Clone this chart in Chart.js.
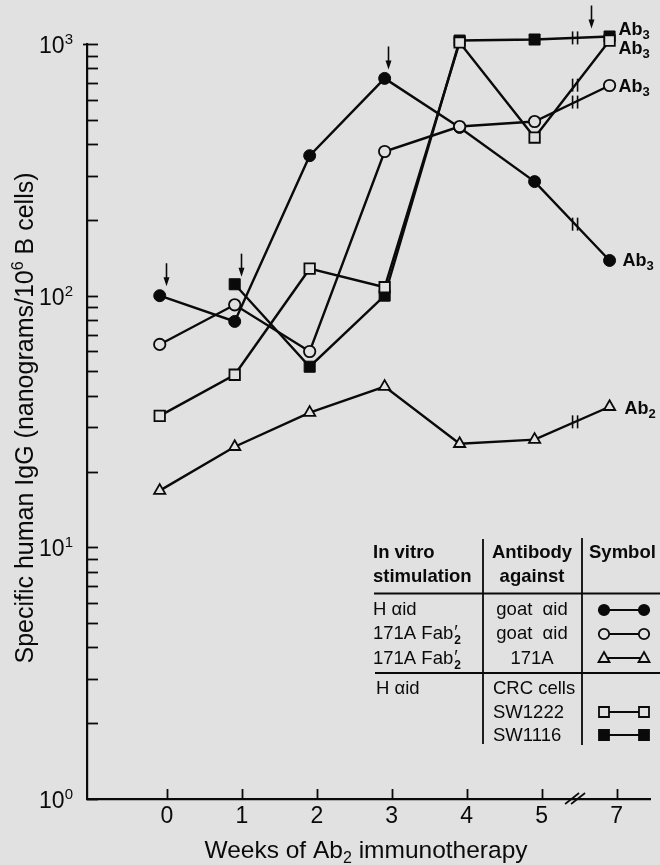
<!DOCTYPE html>
<html>
<head>
<meta charset="utf-8">
<script src="https://cdn.jsdelivr.net/npm/chart.js@4/dist/chart.umd.min.js"></script>
<style>
html,body{margin:0;padding:0;background:#e1e1e1;}
#wrap{position:relative;width:660px;height:865px;}
canvas{display:block;}
</style>
</head>
<body>
<div id="wrap"><canvas id="c" width="660" height="865"></canvas></div>
<script>
// ---------------- data ----------------
const weeks = [0, 1, 2, 3, 4, 5, 7];
const weekTickLabels = ['0', '1', '2', '3', '4', '5', '7'];
// H αid stimulation, goat αid antibody (filled circles)
const hAidGoat = [100, 79, 360, 730, 466, 284, 138];
// 171A Fab'2 stimulation, goat αid antibody (open circles)
const fabGoat = [64, 92, 60, 374, 470, 492, 684];
// 171A Fab'2 stimulation, 171A antibody (open triangles)
const fab171A = [16.8, 25.1, 34.3, 43.5, 25.8, 26.8, 36.2];
// H αid stimulation, CRC cells SW1222 (open squares)
const sw1222 = [33.3, 48.5, 128, 108, 1014, 425, 1032];
// H αid stimulation, CRC cells SW1116 (filled squares)
const sw1116 = [null, 111, 52.2, 100, 1032, 1042, 1071];
// y-axis decade exponents (10^0 .. 10^3)
const yTickExps = [0, 1, 2, 3];
// immunization arrows: axis position and value of arrow tip
const arrowPos = [0.08, 1.09, 3.05, 5.75];
const arrowTipValues = [109, 119, 792, 1152];

// ---------------- styling ----------------
const FONT = "'Liberation Sans', Arial, Helvetica, sans-serif";
const INK = '#0a0a0a';
const BG = '#e1e1e1';
const breakPos = 5.54;     // axis position of the 5 // 7 break
const tickShift = 0.095;   // tick marks sit slightly right of the plotted points

// week 7 sits one step after 5 because of the axis break
const axisPos = w => (w <= 5 ? w : w - 1);
const series = vals => weeks.map((w, i) => vals[i] == null ? null : { x: axisPos(w), y: vals[i] }).filter(Boolean);

function drawRich(ctx, parts, x, y, align) {
  ctx.textBaseline = 'alphabetic';
  ctx.textAlign = 'left';
  let w = 0;
  parts.forEach(p => { ctx.font = p.font; p.w = ctx.measureText(p.t).width; w += p.w + (p.gap || 0); });
  let cx = align === 'center' ? x - w / 2 : align === 'right' ? x - w : x;
  parts.forEach(p => { ctx.font = p.font; ctx.fillText(p.t, cx, y + (p.dy || 0)); cx += p.w + (p.gap || 0); });
  return w;
}

function marker(ctx, style, x, y) {
  ctx.save();
  ctx.lineWidth = 1.8; ctx.strokeStyle = INK;
  ctx.beginPath();
  if (style === 'fcircle' || style === 'ocircle') ctx.arc(x, y, 5.2, 0, Math.PI * 2);
  else if (style === 'tri') { ctx.moveTo(x, y - 6); ctx.lineTo(x + 5.5, y + 4); ctx.lineTo(x - 5.5, y + 4); ctx.closePath(); }
  else if (style === 'osq' || style === 'fsq') ctx.rect(x - 5, y - 5, 10, 10);
  ctx.fillStyle = (style === 'fcircle' || style === 'fsq') ? INK : BG;
  ctx.fill(); ctx.stroke();
  ctx.restore();
}

const decorPlugin = {
  id: 'decor',
  afterDraw(chart) {
    const ctx = chart.ctx, xs = chart.scales.x, ys = chart.scales.y, ca = chart.chartArea;
    ctx.save();
    ctx.fillStyle = INK; ctx.strokeStyle = INK; ctx.lineCap = 'butt';

    // y-axis tick marks (inward) and decade labels
    ctx.lineWidth = 1.8;
    for (let d = 0; d < 3; d++) {
      for (let k = 1; k <= 9; k++) {
        const py = Math.round(ys.getPixelForValue(k * Math.pow(10, d))) + 0.5;
        ctx.beginPath(); ctx.moveTo(ca.left, py); ctx.lineTo(ca.left + 11, py); ctx.stroke();
      }
    }
    const pTop = Math.round(ys.getPixelForValue(1000)) + 0.5;
    ctx.beginPath(); ctx.moveTo(ca.left - 4, pTop); ctx.lineTo(ca.left + 11, pTop); ctx.stroke();
    yTickExps.forEach(e => {
      const py = ys.getPixelForValue(Math.pow(10, e));
      drawRich(ctx, [
        { t: '10', font: `23px ${FONT}` },
        { t: String(e), font: `15px ${FONT}`, dy: -9 }
      ], 73, py + 9, 'right');
    });

    // x-axis tick marks (inward)
    weekTickLabels.forEach((l, i) => {
      const px = Math.round(xs.getPixelForValue(i + tickShift)) + 0.5;
      ctx.beginPath(); ctx.moveTo(px, ca.bottom); ctx.lineTo(px, ca.bottom - 10); ctx.stroke();
    });
    // x-axis break //
    const bx = xs.getPixelForValue(breakPos);
    ctx.lineWidth = 1.6;
    [-3, 3].forEach(o => {
      ctx.beginPath(); ctx.moveTo(bx + o - 7, ca.bottom + 5); ctx.lineTo(bx + o + 7, ca.bottom - 6); ctx.stroke();
    });

    // break marks on each data line between 5 and 7
    [hAidGoat, fabGoat, fab171A, sw1222, sw1116].forEach(vals => {
      const a = vals[5], b = vals[6];
      const t = breakPos - 5;
      const v = Math.pow(10, Math.log10(a) + (Math.log10(b) - Math.log10(a)) * t);
      const py = ys.getPixelForValue(v);
      ctx.lineWidth = 1.6;
      [-2.5, 2.5].forEach(o => {
        ctx.beginPath(); ctx.moveTo(bx + o, py - 6.5); ctx.lineTo(bx + o, py + 6.5); ctx.stroke();
      });
    });

    // arrows
    ctx.lineWidth = 1.6;
    arrowPos.forEach((p, i) => {
      const px = Math.round(xs.getPixelForValue(p)) + 0.5;
      const tip = ys.getPixelForValue(arrowTipValues[i]);
      ctx.beginPath(); ctx.moveTo(px, tip - 23); ctx.lineTo(px, tip - 5); ctx.stroke();
      ctx.beginPath(); ctx.moveTo(px, tip); ctx.lineTo(px - 3, tip - 9); ctx.lineTo(px + 3, tip - 9); ctx.closePath(); ctx.fill();
    });

    // end labels
    const endLabels = [
      { vals: sw1116, sub: '3', dx: 9, dy: -2 },
      { vals: sw1222, sub: '3', dx: 9, dy: 13 },
      { vals: fabGoat, sub: '3', dx: 9, dy: 6 },
      { vals: hAidGoat, sub: '3', dx: 13, dy: 6 },
      { vals: fab171A, sub: '2', dx: 15, dy: 7 }
    ];
    endLabels.forEach(l => {
      const px = xs.getPixelForValue(axisPos(weeks[6]));
      const py = ys.getPixelForValue(l.vals[6]);
      drawRich(ctx, [
        { t: 'Ab', font: `bold 18px ${FONT}` },
        { t: l.sub, font: `bold 13px ${FONT}`, dy: 4 }
      ], px + l.dx, py + l.dy, 'left');
    });

    // axis titles
    drawRich(ctx, [
      { t: 'Weeks of Ab', font: `24.5px ${FONT}` },
      { t: '2', font: `16px ${FONT}`, dy: 5 },
      { t: ' immunotherapy', font: `24.5px ${FONT}` }
    ], 366, 858, 'center');
    ctx.save();
    ctx.translate(33, 418);
    ctx.rotate(-Math.PI / 2);
    drawRich(ctx, [
      { t: 'Specific human IgG (nanograms/10', font: `25px ${FONT}` },
      { t: '6', font: `16px ${FONT}`, dy: -10 },
      { t: ' B cells)', font: `25px ${FONT}` }
    ], 0, 0, 'center');
    ctx.restore();

    // ------------- legend table -------------
    const hb = `bold 18.5px ${FONT}`, nb = `18.5px ${FONT}`;
    ctx.textBaseline = 'alphabetic';
    ctx.font = hb; ctx.textAlign = 'left';
    ctx.fillText('In vitro', 373, 558);
    ctx.fillText('stimulation', 373, 582);
    ctx.fillText('Symbol', 589, 558);
    ctx.textAlign = 'center';
    ctx.fillText('Antibody', 532, 558);
    ctx.fillText('against', 532, 582);
    ctx.textAlign = 'left';

    ctx.lineWidth = 1.8;
    ctx.beginPath();
    ctx.moveTo(483, 539); ctx.lineTo(483, 744);
    ctx.moveTo(582, 538); ctx.lineTo(582, 745);
    ctx.moveTo(374, 593.5); ctx.lineTo(660, 593.5);
    ctx.moveTo(375, 673); ctx.lineTo(660, 673);
    ctx.stroke();

    const fabText = (x, y) => {
      ctx.font = nb;
      ctx.fillText('171A Fab', x, y);
      const w = ctx.measureText('171A Fab').width;
      ctx.fillText('\u2032', x + w + 1, y - 1);
      ctx.font = `bold 12px ${FONT}`;
      ctx.fillText('2', x + w + 1, y + 5);
    };
    ctx.font = nb;
    ctx.fillText('H \u03B1id', 373, 615);
    fabText(373, 639);
    fabText(373, 664);
    ctx.font = nb;
    ctx.fillText('H \u03B1id', 376, 694);
    ctx.textAlign = 'center';
    ctx.fillText('goat  \u03B1id', 532, 615);
    ctx.fillText('goat  \u03B1id', 532, 639);
    ctx.fillText('171A', 532, 664);
    ctx.textAlign = 'left';
    ctx.fillText('CRC cells', 493, 694);
    ctx.fillText('SW1222', 493, 718);
    ctx.fillText('SW1116', 493, 741);

    const sym = [['fcircle', 610], ['ocircle', 634], ['tri', 658], ['osq', 712], ['fsq', 735]];
    sym.forEach(([s, y]) => {
      ctx.lineWidth = 2.2;
      ctx.beginPath(); ctx.moveTo(604, y); ctx.lineTo(644, y); ctx.stroke();
      marker(ctx, s, 604, y); marker(ctx, s, 644, y);
    });
    ctx.restore();
  }
};

const common = {
  borderColor: INK, borderWidth: 2.4, pointBorderColor: INK, tension: 0,
  clip: false, fill: false, showLine: true
};

new Chart(document.getElementById('c'), {
  type: 'line',
  data: {
    datasets: [
      Object.assign({}, common, { label: 'H αid / goat αid', data: series(hAidGoat), pointStyle: 'circle', pointRadius: 6, pointBackgroundColor: INK, pointBorderWidth: 1, order: 5 }),
      Object.assign({}, common, { label: '171A Fab′2 / 171A', data: series(fab171A), pointStyle: 'triangle', pointRadius: 6.5, pointBackgroundColor: BG, pointBorderWidth: 1.8, order: 4 }),
      Object.assign({}, common, { label: 'H αid / SW1116', data: series(sw1116), pointStyle: 'rect', pointRadius: 7.8, pointBackgroundColor: INK, pointBorderWidth: 1, order: 3 }),
      Object.assign({}, common, { label: '171A Fab′2 / goat αid', data: series(fabGoat), pointStyle: 'circle', pointRadius: 5.7, pointBackgroundColor: BG, pointBorderWidth: 1.8, order: 2 }),
      Object.assign({}, common, { label: 'H αid / SW1222', data: series(sw1222), pointStyle: 'rect', pointRadius: 7.4, pointBackgroundColor: BG, pointBorderWidth: 1.8, order: 1 })
    ]
  },
  options: {
    responsive: false,
    animation: false,
    devicePixelRatio: 1,
    layout: { padding: { top: 44, right: 7, left: 0, bottom: 0 } },
    plugins: { legend: { display: false }, tooltip: { enabled: false }, title: { display: false } },
    scales: {
      x: {
        type: 'linear', min: -0.97, max: 6.55,
        afterFit(s) { s.height = 66; },
        afterBuildTicks(s) { s.ticks = weekTickLabels.map((l, i) => ({ value: i + tickShift })); },
        ticks: {
          callback: (v, i) => weekTickLabels[i],
          font: { family: FONT, size: 23 }, color: INK, padding: 4,
          autoSkip: false, maxRotation: 0
        },
        grid: { display: true, drawOnChartArea: false, drawTicks: false },
        border: { display: true, color: INK, width: 2.2 }
      },
      y: {
        type: 'logarithmic', min: 1, max: 1000,
        afterFit(s) { s.width = 87; },
        ticks: { display: false },
        grid: { display: true, drawOnChartArea: false, drawTicks: false },
        border: { display: true, color: INK, width: 2.2 }
      }
    }
  },
  plugins: [decorPlugin]
});
</script>
</body>
</html>
